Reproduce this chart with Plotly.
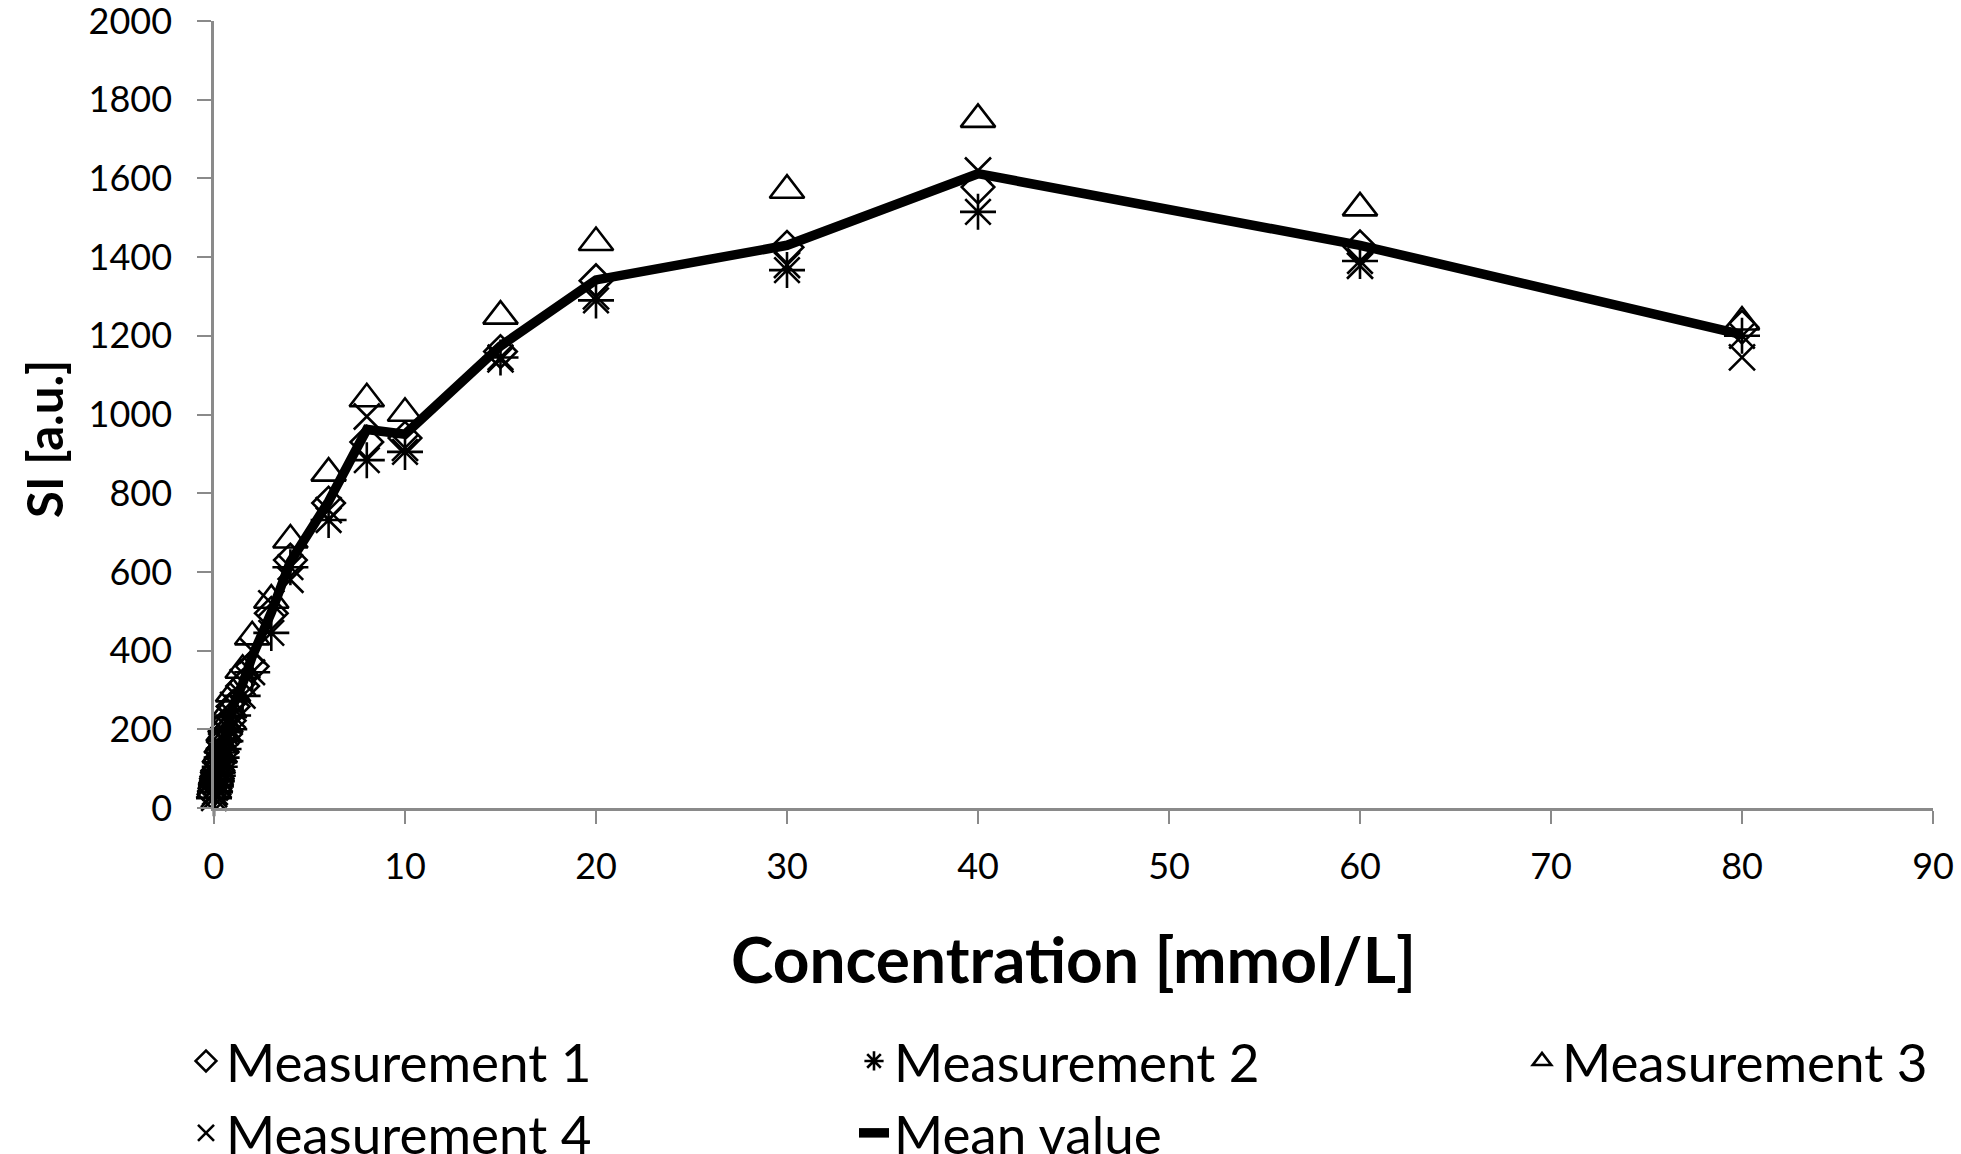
import plotly.graph_objects as go

# Concentration [mmol/L]
conc = [0, 0.05, 0.1, 0.15, 0.2, 0.3, 0.4, 0.5, 0.6, 0.8, 1, 1.5, 2, 3, 4, 6, 8, 10, 15, 20, 30, 40, 60, 80]

# Signal intensity [a.u.]
m1 = [35, 50, 65, 80, 95, 118, 142, 168, 188, 222, 258, 310, 360, 495, 630, 775, 930, 940, 1160, 1340, 1425, 1578, 1426, 1222]
m2 = [25, 40, 55, 68, 82, 105, 128, 150, 170, 200, 235, 285, 345, 445, 612, 732, 884, 905, 1145, 1290, 1367, 1515, 1390, 1200]
m3 = [45, 60, 78, 92, 108, 135, 160, 190, 212, 250, 290, 350, 435, 528, 681, 851, 1040, 1003, 1250, 1437, 1570, 1750, 1525, 1235]
m4 = [35, 52, 66, 82, 98, 122, 148, 172, 192, 228, 262, 320, 400, 520, 580, 757, 995, 915, 1140, 1300, 1380, 1620, 1378, 1145]
mean_val = [35, 50, 66, 80, 96, 120, 145, 170, 190, 225, 261, 316, 385, 497, 626, 779, 962, 950, 1174, 1342, 1430, 1612, 1430, 1203]

x_ticks = [0, 10, 20, 30, 40, 50, 60, 70, 80, 90]
y_ticks = [0, 200, 400, 600, 800, 1000, 1200, 1400, 1600, 1800, 2000]

FONT = "Lato"
W, H = 1961, 1154
ML, MR, MT, MB = 214, 28, 21, 346
PW, PH = W - ML - MR, H - MT - MB

fig = go.Figure()

def meas(name, y, symbol, size, legend):
    fig.add_trace(go.Scatter(
        x=conc, y=y, name=name, mode="markers", legend=legend,
        cliponaxis=False,
        marker=dict(symbol=symbol, size=size, color="black",
                    line=dict(color="black", width=2.6)),
    ))

meas("Measurement 1", m1, "diamond-open", 25, "legend")
meas("Measurement 2", m2, "asterisk-open", 30, "legend2")
meas("Measurement 3", m3, "triangle-up-open", 30, "legend3")
meas("Measurement 4", m4, "x-thin-open", 26, "legend")

fig.add_trace(go.Scatter(
    x=conc, y=mean_val, name="Mean value", mode="lines", legend="legend2",
    cliponaxis=False,
    line=dict(color="black", width=9.5),
))

axis_col = "#8a8a8a"

legend_common = dict(
    orientation="v", xref="container", yref="container",
    xanchor="left", yanchor="top",
    font=dict(family=FONT, size=53, color="black"),
    bgcolor="rgba(0,0,0,0)", tracegroupgap=0,
)
ytop = 1 - (1060 - 40) / H

fig.update_layout(
    width=W, height=H,
    margin=dict(l=ML, r=MR, t=MT, b=MB, autoexpand=False),
    paper_bgcolor="white", plot_bgcolor="white",
    font=dict(family=FONT, color="black"),
    legend=dict(x=186 / W, y=ytop, **legend_common),
    legend2=dict(x=854 / W, y=ytop, **legend_common),
    legend3=dict(x=1522 / W, y=ytop, **legend_common),
    xaxis=dict(
        range=[0, 90], tickmode="array", tickvals=x_ticks,
        showgrid=False, zeroline=False,
        showline=True, linecolor=axis_col, linewidth=3,
        ticks="outside", ticklen=13, tickwidth=2, tickcolor=axis_col,
        tickfont=dict(family=FONT, size=36, color="black"),
        ticklabelstandoff=12, ticklabeloverflow="allow",
        title=dict(text="<b>Concentration [mmol/L]</b>",
                   font=dict(family=FONT, size=64, color="black"),
                   standoff=52),
    ),
    yaxis=dict(
        range=[0, 2000], tickmode="array", tickvals=y_ticks,
        showgrid=False, zeroline=False,
        showline=True, linecolor=axis_col, linewidth=2.5,
        ticks="outside", ticklen=14, tickwidth=2, tickcolor=axis_col,
        tickfont=dict(family=FONT, size=36, color="black"),
        ticklabelstandoff=18, ticklabeloverflow="allow",
    ),
    annotations=[dict(
        text="<b>SI [a.u.]</b>", textangle=-90, showarrow=False,
        xref="paper", yref="paper",
        x=(44 - ML) / PW, y=(MT + PH - 439) / PH,
        xanchor="center", yanchor="middle",
        font=dict(family=FONT, size=49, color="black"),
    )],
)

fig.write_html("out.html", config={"displayModeBar": False},
               post_script="document.body.style.margin='0';")
